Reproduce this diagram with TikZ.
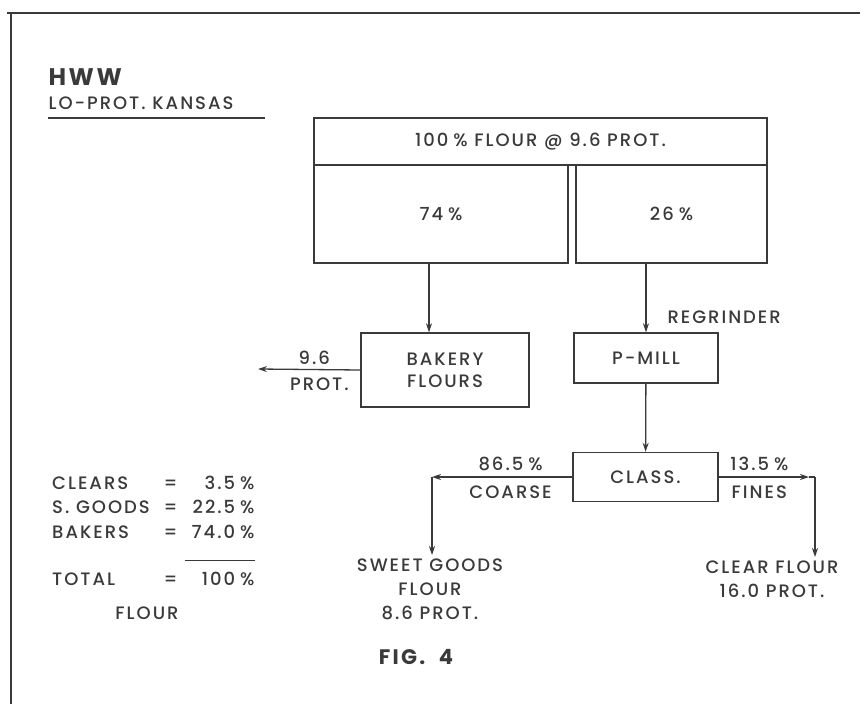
\documentclass[tikz,border=0pt]{standalone}
\usepackage{fontspec}
\setmainfont{Poppins Medium}[BoldFont={Poppins Bold}, LetterSpace=11]
\usetikzlibrary{arrows.meta, positioning}
\definecolor{ink}{HTML}{3A3A3A}
\newcommand{\pcsign}{\hspace{5pt}\%}

\begin{document}
\begin{tikzpicture}[x=1pt, y=-1pt,
  every node/.style={text=ink, font=\fontsize{18}{22}\selectfont},
  box/.style={draw=ink, line width=1.4pt, inner sep=0pt, align=center},
  arr/.style={-{Stealth[length=9pt, width=6pt]}, draw=ink, line width=1.3pt}]
\useasboundingbox (0,0) rectangle (865,704);
% frame and heading
\draw[ink, line width=1.4pt] (7,13) -- (860,13);
\draw[ink, line width=1.4pt] (11,13) -- (11,704);
\node[anchor=west, font=\bfseries\fontsize{24}{26}\selectfont] (hww) at (45,77) {HWW};
\node[anchor=west] (kansas) at (45,103) {LO-PROT. KANSAS};
\draw[ink, line width=1.6pt] (48,118) -- (265,118);
% flour split
\node[box, minimum width=453pt, minimum height=47pt] (flour) at (540.5,141.5) {100\pcsign{} FLOUR @ 9.6 PROT.};
\node[box, minimum width=254pt, minimum height=98pt] (left) at (441,214) {74\pcsign};
\node[box, minimum width=191pt, minimum height=98pt] (right) at (671.5,214) {26\pcsign};
\node[box, minimum width=168pt, minimum height=74pt] (bakery) at (445,370) {BAKERY\\FLOURS};
\node[box, minimum width=144pt, minimum height=50pt] (pmill) at (646,358) {P-MILL};
\node[anchor=west] (regr) at (664,317) {REGRINDER};
\node[box, minimum width=145pt, minimum height=49pt] (class) at (645.5,477) {CLASS.};
\coordinate (bout) at (258,369);
\coordinate (cl) at (432,477);
\coordinate (cr) at (815,477);
\node[anchor=north, align=center, font=\fontsize{18}{24}\selectfont] (sweet) at (430,555) {SWEET GOODS\\FLOUR\\8.6 PROT.};
\node[anchor=north, align=center, font=\fontsize{18}{24}\selectfont] (clear) at (772,557) {CLEAR FLOUR\\16.0 PROT.};
% flows
\draw[arr] ([xshift=-16pt]bakery.north |- left.south) -- ([xshift=-16pt]bakery.north);
\draw[arr] (pmill.north |- right.south) -- (pmill.north);
\draw[arr] (bakery.west) -- node[above, pos=0.45, inner sep=4pt] {9.6} node[below, pos=0.4, inner sep=8pt] {PROT.} (bout);
\draw[arr] (pmill) -- (class);
\draw[arr] (class.west) -- node[above, pos=0.44, inner sep=6pt] {86.5\pcsign} node[below, pos=0.44, inner sep=8pt] {COARSE} (cl);
\draw[arr] (cl) -- (cl |- sweet.north);
\draw[arr] (class.east) -- node[above, pos=0.45, inner sep=6pt] {13.5\pcsign} node[below, pos=0.45, inner sep=8pt] {FINES} ([xshift=-6pt]cr);
\draw[ink, line width=1.3pt] ([xshift=-6pt]cr) -- (cr);
\draw[arr] (cr) -- (cr |- clear.north);
% totals
\node[anchor=north west, inner sep=0pt, font=\fontsize{18}{24.5}\selectfont] (tbl) at (52,472) {%
  \setlength{\tabcolsep}{7pt}%
  \begin{tabular}{@{}lcr@{}}
  CLEARS & = & 3.5\pcsign \\
  S. GOODS & = & 22.5\pcsign \\
  BAKERS & = & 74.0\pcsign \\[14pt]
  \cline{3-3}
  \rule{0pt}{26pt}TOTAL & = & 100\pcsign
  \end{tabular}};
\node (tflour) at (147,613) {FLOUR};
\node[font=\bfseries\fontsize{21}{24}\selectfont] (fig) at (416,657) {FIG.~~4};
\end{tikzpicture}
\end{document}
